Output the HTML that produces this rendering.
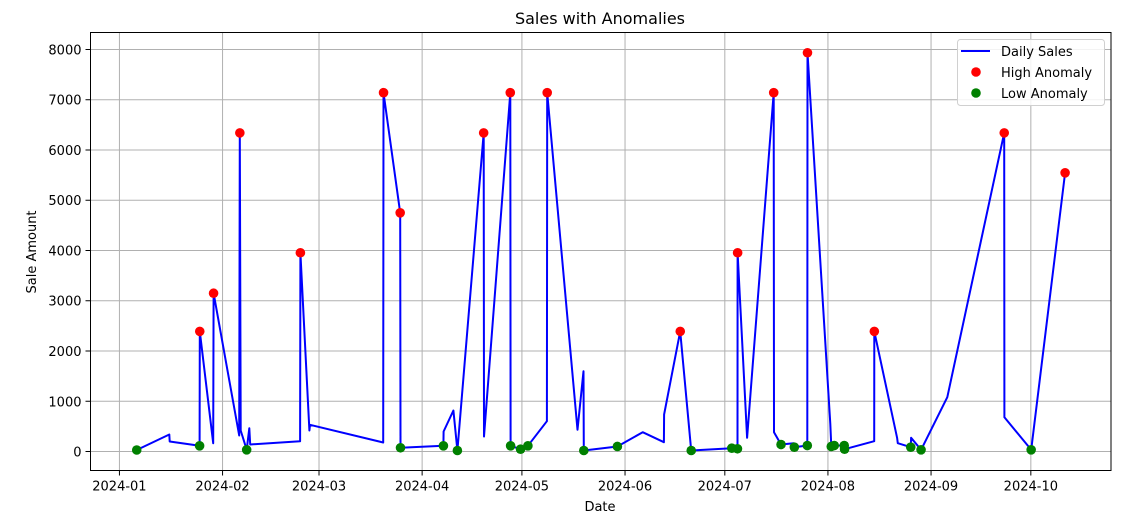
<!DOCTYPE html>
<html><head><meta charset="utf-8"><style>
html,body{margin:0;padding:0;background:#fff;}
svg{display:block;font-family:"DejaVu Sans","Liberation Sans",sans-serif;}
</style></head><body>
<svg id="chart" width="1128" height="521" viewBox="0 0 1128 521"></svg>
<script>
// Days since 2024-01-01
const dayOffsets = [5.2,15.0,15.1,24.1,24.15,28.2,28.3,36.0,36.2,36.45,38.25,39.05,39.3,54.3,54.4,57.1,57.3,79.3,79.4,84.4,84.5,97.4,97.45,100.4,101.6,109.5,109.6,117.5,117.6,120.6,122.8,128.5,128.6,137.7,139.5,139.6,149.7,157.3,163.7,163.75,168.6,171.9,184.1,185.8,185.85,188.7,196.7,196.8,198.9,202.7,202.9,206.8,206.85,213.7,214.0,214.9,217.9,218.0,226.9,226.95,233.8,234.0,237.9,238.0,241.0,248.9,266.0,266.05,274.1,284.3];
const salesValues = [30,338,199,113,2390,165,3150,318,6340,418,34,464,139,205,3955,418,531,179,7140,4750,74,113,398,816,20,6340,298,7140,113,46,113,603,7140,432,1598,20,100,384,185,736,2390,20,66,54,3955,273,7140,384,139,165,86,119,7935,551,100,119,119,46,205,2390,273,165,86,273,34,1080,6340,683,34,5546];
const anomalyFlags = ['L','','','L','H','','H','','H','','L','','','','H','','','','H','H','L','L','','','L','H','','H','L','L','L','','H','','','L','L','','','','H','L','L','L','H','','H','','L','','L','L','H','','L','L','L','L','','H','','','L','','L','','H','','L','H'];
const xTickDays = [0,31,60,91,121,152,182,213,244,274];
const xTickLabels = ['2024-01','2024-02','2024-03','2024-04','2024-05','2024-06','2024-07','2024-08','2024-09','2024-10'];
const yTickValues = [0,1000,2000,3000,4000,5000,6000,7000,8000];

const L=90.5,R=1111,T=32.5,B=470.5;
const xMin=-8.7,xMax=298.1,yMin=-378,yMax=8338;
const xs=d=>L+(d-xMin)/(xMax-xMin)*(R-L);
const ys=v=>B-(v-yMin)/(yMax-yMin)*(B-T);
const NS='http://www.w3.org/2000/svg';
const svg=document.getElementById('chart');
function mk(tag,attrs,parent){const e=document.createElementNS(NS,tag);for(const k in attrs)e.setAttribute(k,attrs[k]);(parent||svg).appendChild(e);return e;}

const title=mk('text',{x:600,y:24,'text-anchor':'middle','font-size':16,fill:'#000'});title.textContent='Sales with Anomalies';



const grid=mk('g',{});


xTickDays.forEach((d,i)=>{
  const x=xs(d);
  const g=mk('line',{x1:x,x2:x,y1:T,y2:B,stroke:'#b0b0b0','stroke-width':1},grid);
  
  
  const t=mk('line',{x1:x,x2:x,y1:B,y2:B+5,stroke:'#000','stroke-width':1});
  
  
  const lb=mk('text',{x:x,y:B+20,'text-anchor':'middle','font-size':13,fill:'#000'});lb.textContent=xTickLabels[i];
  
  
});
yTickValues.forEach(v=>{
  const y=ys(v);
  const g=mk('line',{x1:L,x2:R,y1:y,y2:y,stroke:'#b0b0b0','stroke-width':1},grid);
  
  
  const t=mk('line',{x1:L-5,x2:L,y1:y,y2:y,stroke:'#000','stroke-width':1});
  
  
  const lb=mk('text',{x:L-9,y:y+5,'text-anchor':'end','font-size':13,fill:'#000'});lb.textContent=v;
  
  
});

const pts=dayOffsets.map((d,i)=>xs(d).toFixed(1)+','+ys(salesValues[i]).toFixed(1)).join(' ');
const line=mk('polyline',{points:pts,fill:'none',stroke:'#0000ff','stroke-width':2,'stroke-linejoin':'round'});



dayOffsets.forEach((d,i)=>{
  if(!anomalyFlags[i])return;
  const c=mk('circle',{cx:xs(d),cy:ys(salesValues[i]),r:4.8,fill:anomalyFlags[i]==='H'?'#ff0000':'#008000'});
  
  
});

const frame=mk('rect',{x:L,y:T,width:R-L,height:B-T,fill:'none',stroke:'#000','stroke-width':1});



const xl=mk('text',{x:600,y:511,'text-anchor':'middle','font-size':13,fill:'#000'});xl.textContent='Date';


const yl=mk('text',{x:0,y:0,'text-anchor':'middle','font-size':13,fill:'#000',transform:'translate(36,252) rotate(-90)'});yl.textContent='Sale Amount';



const leg=mk('g',{});


mk('rect',{x:957.5,y:39.5,width:147,height:66,rx:3,fill:'#fff','fill-opacity':0.85,stroke:'#d0d0d0'},leg);
mk('line',{x1:961,x2:990,y1:51,y2:51,stroke:'#0000ff','stroke-width':2},leg);
mk('circle',{cx:976,cy:72,r:4.8,fill:'#ff0000'},leg);
mk('circle',{cx:976,cy:93,r:4.8,fill:'#008000'},leg);
[['Daily Sales',56,'legend-entry-daily-sales'],['High Anomaly',77,'legend-entry-high-anomaly'],['Low Anomaly',98,'legend-entry-low-anomaly']].forEach(a=>{
  const t=mk('text',{x:1001,y:a[1],'font-size':13,fill:'#000'},leg);t.textContent=a[0];
  
  
});
</script>
</body></html>
